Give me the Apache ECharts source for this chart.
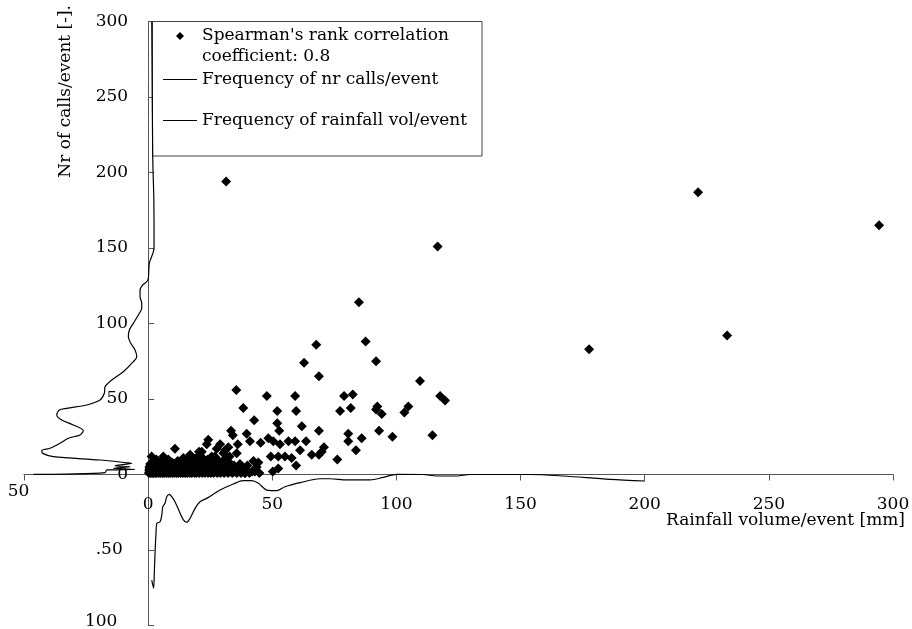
<!DOCTYPE html>
<html>
<head>
<meta charset="utf-8">
<script src="https://cdn.jsdelivr.net/npm/echarts@6/dist/echarts.min.js"></script>
<style>
  html, body { margin: 0; padding: 0; background: #fff; }
  #chart { width: 912px; height: 629px; }
</style>
</head>
<body>
<div id="chart"></div>
<script>
// Events: [rainfall volume per event (mm), number of calls per event]
const largeEvents = [
  [31.4, 194], [221.5, 187], [294.4, 165], [116.6, 151], [84.9, 114],
  [87.6, 88], [67.7, 86], [177.6, 83], [233.2, 92]
];
const mediumEvents = [
  [62.8, 74], [91.8, 75], [68.8, 65], [109.5, 62], [35.5, 56], [47.8, 52],
  [59.2, 52], [78.9, 52], [82.4, 53], [117.6, 52], [119.6, 49], [38.3, 44],
  [52.0, 42], [59.6, 42], [77.3, 42], [81.6, 44], [92.3, 45], [91.8, 43],
  [94.1, 40], [104.8, 45], [103.2, 41], [42.7, 36], [52.0, 34], [52.8, 29],
  [61.9, 32], [68.8, 29], [33.4, 29], [34.1, 26], [39.7, 27], [36.1, 20],
  [41.0, 22], [45.3, 21], [48.4, 24], [50.4, 22], [53.1, 20], [56.5, 22],
  [59.2, 22], [63.6, 22], [61.2, 16], [70.8, 18], [69.9, 15], [80.6, 27],
  [80.6, 22], [86.0, 24], [93.0, 29], [98.4, 25], [114.5, 26], [83.7, 16],
  [76.2, 10], [65.9, 13], [68.8, 13], [57.8, 11], [59.6, 6], [52.4, 12],
  [49.4, 12], [55.1, 12], [52.4, 4], [50.2, 2], [44.8, 1], [43.7, 5],
  [42.4, 9], [44.4, 8], [39.0, 1], [40.0, 6], [37.0, 7], [35.7, 14],
  [10.8, 17], [24.2, 23], [23.6, 20], [27.6, 17], [31.0, 16], [1.4, 12],
  [16.9, 12], [20.5, 15], [30.3, 14], [21.6, 15], [29.0, 20], [32.3, 18],
  [26.9, 12], [31.7, 11], [16.9, 13], [14.2, 11], [6.1, 12], [8.1, 10],
  [43.0, 2]
];
const smallEvents = [
  [0.3, 1], [0.9, 1], [1.6, 1], [2.2, 1], [2.9, 1], [3.5, 1], [4.3, 1], [5.0, 1],
  [5.8, 1], [6.4, 1], [7.3, 1], [8.1, 1], [8.8, 1], [9.7, 1], [10.5, 1], [11.4, 1],
  [12.2, 1], [13.1, 1], [14.0, 1], [14.9, 1], [15.7, 1], [16.8, 1], [17.6, 1], [18.7, 1],
  [19.5, 1], [20.6, 1], [21.8, 1], [22.9, 1], [24.1, 1], [25.3, 1], [26.4, 1], [27.8, 1],
  [29.1, 1], [30.6, 1], [32.2, 1], [33.9, 1], [35.7, 1], [37.4, 1], [39.0, 1], [40.8, 1],
  [0.6, 2], [1.3, 2], [2.5, 2], [3.2, 2], [4.0, 2], [4.7, 2], [5.5, 2], [6.9, 2],
  [7.7, 2], [9.2, 2], [10.1, 2], [11.0, 2], [12.6, 2], [13.6, 2], [15.3, 2], [16.2, 2],
  [17.9, 2], [19.1, 2], [20.2, 2], [21.3, 2], [23.4, 2], [24.7, 2], [26.0, 2], [27.3, 2],
  [28.6, 2], [30.0, 2], [31.5, 2], [33.1, 2], [34.8, 2], [36.3, 2], [38.1, 2], [41.9, 2],
  [0.4, 3], [1.1, 3], [1.9, 3], [2.7, 3], [3.8, 3], [4.5, 3], [5.3, 3], [6.1, 3],
  [7.0, 3], [8.4, 3], [9.5, 3], [10.8, 3], [12.0, 3], [13.4, 3], [14.6, 3], [16.0, 3],
  [17.3, 3], [18.4, 3], [19.8, 3], [21.0, 3], [22.3, 3], [23.8, 3], [25.0, 3], [26.7, 3],
  [28.2, 3], [29.7, 3], [31.1, 3], [32.6, 3], [34.2, 3], [35.9, 3], [38.6, 3], [43.0, 3],
  [0.7, 4], [1.5, 4], [2.4, 4], [3.4, 4], [4.9, 4], [6.0, 4], [7.4, 4], [8.6, 4],
  [9.9, 4], [11.2, 4], [12.4, 4], [13.8, 4], [15.1, 4], [16.5, 4], [18.0, 4], [19.3, 4],
  [20.8, 4], [22.1, 4], [23.6, 4], [25.5, 4], [27.0, 4], [28.9, 4], [30.4, 4], [32.0, 4],
  [33.6, 4], [35.2, 4], [37.9, 4],
  [0.5, 5], [1.8, 5], [3.0, 5], [4.4, 5], [5.7, 5], [7.1, 5], [8.3, 5], [10.3, 5],
  [11.7, 5], [13.0, 5], [14.4, 5], [16.3, 5], [17.7, 5], [19.0, 5], [20.5, 5], [22.6, 5],
  [24.4, 5], [26.2, 5], [28.0, 5], [29.5, 5], [31.8, 5], [33.4, 5], [36.7, 5],
  [1.0, 6], [2.1, 6], [3.6, 6], [5.2, 6], [6.7, 6], [8.0, 6], [9.3, 6], [11.5, 6],
  [13.3, 6], [15.5, 6], [17.1, 6], [18.9, 6], [21.5, 6], [23.1, 6], [25.8, 6], [27.5, 6],
  [29.9, 6], [32.4, 6], [34.6, 6],
  [0.8, 7], [2.6, 7], [4.1, 7], [6.3, 7], [8.9, 7], [10.6, 7], [12.8, 7], [14.7, 7],
  [17.5, 7], [20.0, 7], [22.8, 7], [24.9, 7], [27.1, 7], [30.8, 7], [33.3, 7],
  [1.7, 8], [3.9, 8], [7.8, 8], [9.6, 8], [12.3, 8], [15.9, 8], [19.6, 8], [23.2, 8],
  [26.5, 8], [29.3, 8], [31.9, 8],
  [2.8, 9], [5.6, 9], [11.9, 9], [16.6, 9], [21.1, 9], [25.2, 9], [28.4, 9], [30.1, 9],
  [3.3, 10], [13.9, 10], [18.2, 10], [24.0, 10], [27.7, 10],
  [22.0, 11], [26.9, 11], [19.9, 12], [25.6, 12], [32.8, 12]
];

// Frequency profile of the number of calls, mirrored to the left of the y axis
const callFreqCount = [
  1.45, 1.85, 2.3, 2.38, 2.09, 0.48, 0.08, -0.56, -2.17, -3.26, -3.26, -2.58, -2.58,
  -3.95, -5.96, -7.57, -7.97, -7.01, -5.28, -4.59, -5.96, -9.99, -14.66, -17.36,
  -17.64, -19.37, -24.73, -32.78, -35.76, -36.81, -34.8, -30.12, -26.1, -27.43,
  -32.14, -35.48, -39.51, -42.85, -42.45, -38.18, -19.37, -8.62, -6.6, -13.33,
  -7.29, -14.02, -5.28, -16.67, -17.36, -32.78, -46.23
];
const callFreqLevel = [
  300, 210.3, 181.8, 150.9, 147.4, 139.9, 129.9, 127.7, 125.5, 122.2, 117.7, 113.4,
  110.1, 105.6, 100.1, 95.7, 91.3, 86.9, 82.5, 78.0, 74.7, 68.1, 62.6, 58.1, 53.8,
  49.3, 46.0, 43.8, 42.7, 39.4, 36.1, 32.8, 29.0, 26.2, 24.0, 20.7, 17.4, 15.8,
  14.0, 11.8, 9.6, 7.8, 7.4, 5.8, 5.2, 4.1, 3.4, 3.0, 1.2, 0.3, 0.1
];

// Frequency profile of rainfall volume, mirrored below the x axis
const rainFreqVolume = [
  1.45, 2.2, 2.5, 2.8, 3.2, 3.5, 4.8, 5.5, 5.9, 6.8, 7.5, 8.5, 9.5, 10.8, 12.6, 14.2,
  15.5, 16.9, 18.9, 20.9, 23.6, 29.0, 34.3, 38.3, 41.7, 44.4, 47.8, 51.8, 55.1, 61.2,
  69.2, 73.3, 80.0, 89.4, 94.7, 100.1, 110.8, 116.2, 124.3, 129.6, 153.8, 167.2,
  186.0, 200.1
];
const rainFreqCount = [
  -69.9, -75.2, -64.4, -51.1, -37.9, -32.3, -31.3, -26.8, -21.3, -19.1, -14.7, -13.1,
  -14.7, -18.0, -24.6, -30.1, -31.7, -29.0, -22.4, -18.0, -15.8, -10.3, -6.3, -4.1,
  -4.1, -5.8, -10.3, -10.7, -8.1, -5.4, -2.8, -2.8, -3.6, -3.6, -1.9, 0.1, 0.0, -1.0,
  -1.0, 0.0, 0.0, -1.0, -3.2, -4.3
];

// Tick labels, from the axis minimum upward in steps of 50
const xTickLabels = ['50', '0', '50', '100', '150', '200', '250', '300'];
const yTickLabels = ['100', '.50', '0', '50', '100', '150', '200', '250', '300'];

const seriesNames = [
  "Spearman's rank correlation coefficient: 0.8",
  'Frequency of nr calls/event',
  'Frequency of rainfall vol/event'
];

const FONT = 'DejaVu Serif';
const AXIS_COLOR = '#555';
const X_MIN = -50, X_MAX = 300, Y_MIN = -100, Y_MAX = 300, STEP = 50;
const GRID = { left: 24, right: 19, top: 21.5, bottom: 3.5 };
const W = 912, H = 629;

const zip = (xs, ys) => xs.map((x, i) => [x, ys[i]]);

// The axes cross at zero: shift each axis from the grid edge to the zero line
const plotW = W - GRID.left - GRID.right;
const plotH = H - GRID.top - GRID.bottom;
const yAxisShift = plotW * (0 - X_MIN) / (X_MAX - X_MIN);
const xAxisShift = plotH * (0 - Y_MIN) / (Y_MAX - Y_MIN);

const chart = echarts.init(document.getElementById('chart'), null, { renderer: 'canvas' });

const legendBase = {
  orient: 'vertical',
  left: 163,
  padding: 0,
  itemWidth: 34,
  itemHeight: 8,
  itemGap: 0,
  symbolKeepAspect: true,
  textStyle: { fontFamily: FONT, fontSize: 17, color: '#000', lineHeight: 21 }
};
// Legend icons spanning the full 34x8 icon box: a short line, and a small
// diamond centred between two empty anchor points
const lineIcon = 'path://M0,0H34V1.2H0Z';
const diamondIcon = 'path://M0,4L0,4M34,4L34,4M13,4L17,0L21,4L17,8Z';

chart.setOption({
  animation: false,
  backgroundColor: '#fff',
  textStyle: { fontFamily: FONT, fontSize: 17, color: '#000' },
  grid: Object.assign({ containLabel: false, outerBoundsMode: 'none' }, GRID),
  xAxis: {
    type: 'value',
    min: X_MIN, max: X_MAX, interval: STEP,
    position: 'bottom',
    offset: -xAxisShift,
    splitLine: { show: false },
    axisLine: { onZero: false, lineStyle: { color: AXIS_COLOR, width: 1 } },
    axisTick: { show: true, inside: false, length: 6, lineStyle: { color: AXIS_COLOR } },
    axisLabel: {
      margin: 30.5,
      verticalAlign: 'middle',
      lineHeight: 26,
      color: '#000', fontFamily: FONT, fontSize: 17,
      formatter: (v) => {
        const t = xTickLabels[Math.round((v - X_MIN) / STEP)];
        return v < 0 ? t + '  \n' : t;
      }
    },
    name: 'Rainfall volume/event [mm]',
    nameLocation: 'end',
    nameGap: 12,
    nameMoveOverlap: false,
    nameTextStyle: { fontFamily: FONT, fontSize: 17, color: '#000', align: 'right', verticalAlign: 'top', lineHeight: 93 }
  },
  yAxis: {
    type: 'value',
    min: Y_MIN, max: Y_MAX, interval: STEP,
    position: 'left',
    offset: -yAxisShift,
    splitLine: { show: false },
    axisLine: { onZero: false, lineStyle: { color: AXIS_COLOR, width: 1 } },
    axisTick: { show: true, inside: true, length: 6, lineStyle: { color: AXIS_COLOR } },
    axisLabel: {
      margin: 20,
      lineHeight: 7,
      color: '#000', fontFamily: FONT, fontSize: 17,
      formatter: (v) => {
        const t = yTickLabels[Math.round((v - Y_MIN) / STEP)];
        if (v === -50) return t + ' ';
        if (v === -100) return t + '  \n';
        return t;
      }
    },
    name: 'Nr of calls/event [-].',
    nameLocation: 'end',
    nameGap: 16.5,
    nameRotate: 90,
    nameMoveOverlap: false,
    nameTextStyle: { fontFamily: FONT, fontSize: 17, color: '#000', align: 'right', verticalAlign: 'bottom', lineHeight: 166 }
  },
  graphic: [{
    type: 'rect',
    z: 1,
    silent: true,
    shape: { x: 152.5, y: 21.5, width: 329.5, height: 134.5 },
    style: { fill: '#fff', stroke: '#444', lineWidth: 1 }
  }],
  legend: [
    Object.assign({}, legendBase, {
      top: 4.5,
      data: [{ name: seriesNames[0], icon: diamondIcon }],
      formatter: () => "\nSpearman's rank correlation\ncoefficient: 0.8"
    }),
    Object.assign({}, legendBase, { top: 69, data: [{ name: seriesNames[1], icon: lineIcon }] }),
    Object.assign({}, legendBase, { top: 110, data: [{ name: seriesNames[2], icon: lineIcon }] })
  ],
  series: [
    {
      name: seriesNames[1],
      type: 'line',
      data: zip(callFreqCount, callFreqLevel),
      showSymbol: false,
      symbol: 'none',
      smooth: 0.3,
      color: '#000',
      lineStyle: { color: '#000', width: 1.2 },
      z: 2
    },
    {
      name: seriesNames[2],
      type: 'line',
      data: zip(rainFreqVolume, rainFreqCount),
      showSymbol: false,
      symbol: 'none',
      smooth: 0.3,
      color: '#000',
      lineStyle: { color: '#000', width: 1.2 },
      z: 2
    },
    {
      name: seriesNames[0],
      type: 'scatter',
      symbol: 'diamond',
      symbolSize: 10,
      color: '#000',
      itemStyle: { color: '#000', opacity: 1 },
      data: largeEvents.concat(mediumEvents, smallEvents),
      z: 3
    }
  ]
});
</script>
</body>
</html>
